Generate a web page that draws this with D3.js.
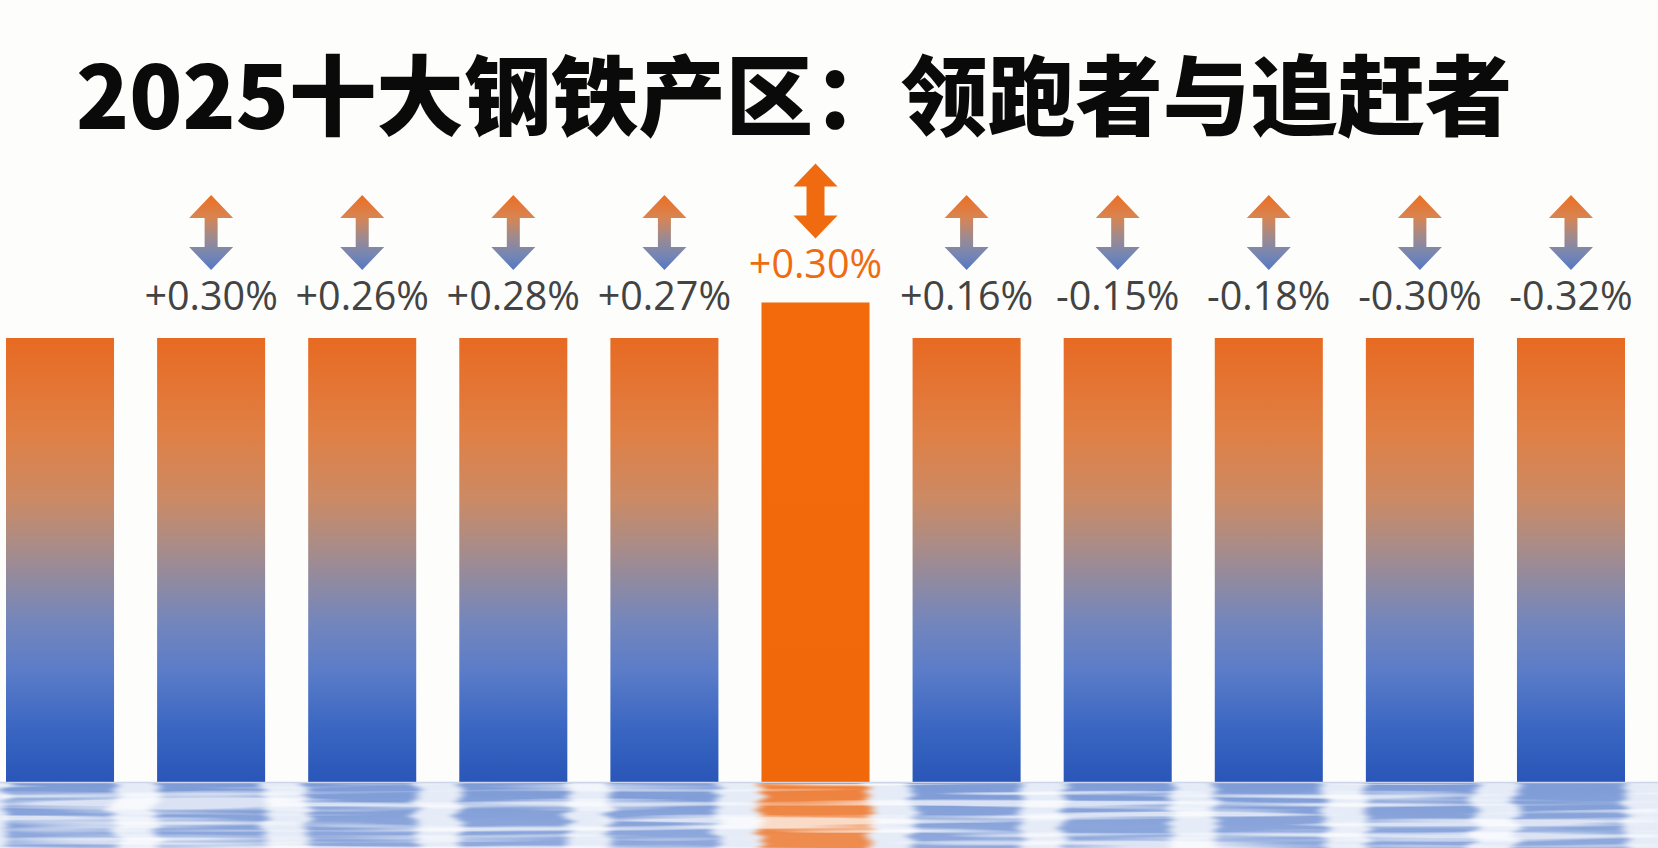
<!DOCTYPE html>
<html><head><meta charset="utf-8">
<script src="https://cdn.jsdelivr.net/npm/d3@7"></script>
<style>
html,body{margin:0;padding:0;background:#fdfdfb;overflow:hidden}
svg{display:block}
</style></head>
<body>
<svg id="chart" width="1658" height="848"></svg>
<script>
// ---- data ----
const titleText = "2025十大钢铁产区：领跑者与追赶者";
const regions = ["1","2","3","4","5","6","7","8","9","10","11"];
const barValues = [100,100,100,100,100,108,100,100,100,100,100];
const changeValues = [null,0.30,0.26,0.28,0.27,0.30,0.16,-0.15,-0.18,-0.30,-0.32];
const leaderFlags = [false,false,false,false,false,true,false,false,false,false,false];

// ---- layout ----
const W = 1658, H = 848;
const waterY = 782;
const svg = d3.select("#chart");
const defs = svg.append("defs");

svg.append("rect").attr("width", W).attr("height", H).attr("fill", "#fdfdfb");

const x = d3.scaleBand().domain(regions).range([6, 1625]).paddingInner(0.285).paddingOuter(0);
const y = d3.scaleLinear().domain([0, 100]).range([waterY, 338]);

// gradients
const bg = defs.append("linearGradient").attr("id","barGrad").attr("x1",0).attr("y1",0).attr("x2",0).attr("y2",1);
[["0%","#e86a22"],["22%","#df8046"],["36%","#cc8a64"],["46%","#ad8c84"],["55%","#8f8aa2"],["64%","#7486bc"],["75%","#5b7cc8"],["88%","#3a66c2"],["100%","#2956b8"]]
  .forEach(s=>bg.append("stop").attr("offset",s[0]).attr("stop-color",s[1]));
const og = defs.append("linearGradient").attr("id","leadGrad").attr("x1",0).attr("y1",0).attr("x2",0).attr("y2",1);
[["0%","#f26a0c"],["100%","#f0680a"]].forEach(s=>og.append("stop").attr("offset",s[0]).attr("stop-color",s[1]));
const ag = defs.append("linearGradient").attr("id","arrowGrad").attr("x1",0).attr("y1",0).attr("x2",0).attr("y2",1);
[["0%","#ec6e22"],["30%","#d88552"],["55%","#a08a8c"],["80%","#7586b4"],["100%","#5577c2"]]
  .forEach(s=>ag.append("stop").attr("offset",s[0]).attr("stop-color",s[1]));
const rg = defs.append("linearGradient").attr("id","reflGrad").attr("x1",0).attr("y1",0).attr("x2",0).attr("y2",1);
[["0%","#6a8cd0"],["100%","#86a2da"]].forEach(s=>rg.append("stop").attr("offset",s[0]).attr("stop-color",s[1]));
const rog = defs.append("linearGradient").attr("id","reflOrange").attr("x1",0).attr("y1",0).attr("x2",0).attr("y2",1);
[["0%","#ee7a30"],["100%","#ee8a4c"]].forEach(s=>rog.append("stop").attr("offset",s[0]).attr("stop-color",s[1]));

// wave filters
const wf = defs.append("filter").attr("id","wave").attr("x","-5%").attr("y","-20%").attr("width","110%").attr("height","140%");
wf.append("feTurbulence").attr("type","fractalNoise").attr("baseFrequency","0.005 0.16").attr("numOctaves",2).attr("seed",4).attr("result","n");
wf.append("feDisplacementMap").attr("in","SourceGraphic").attr("in2","n").attr("scale",26).attr("xChannelSelector","R").attr("yChannelSelector","G").attr("result","d");
wf.append("feGaussianBlur").attr("in","d").attr("stdDeviation","4 0.8");
const sf = defs.append("filter").attr("id","streaks").attr("x",0).attr("y",0).attr("width","100%").attr("height","100%");
sf.append("feTurbulence").attr("type","fractalNoise").attr("baseFrequency","0.003 0.13").attr("numOctaves",2).attr("seed",9).attr("result","n");
sf.append("feColorMatrix").attr("in","n").attr("type","matrix")
  .attr("values","0 0 0 0 1  0 0 0 0 1  0 0 0 0 1  5 0 0 0 -2.3");
sf.append("feGaussianBlur").attr("stdDeviation","3 0.5");

// ---- title ----
svg.append("text").attr("x", 76).attr("y", 129)
  .attr("font-family","'Noto Sans CJK SC','Noto Sans',sans-serif")
  .attr("font-weight",900).attr("font-size",87.4).attr("fill","#0a0a0a")
  .text(titleText);

// ---- bars ----
const data = regions.map((r,i)=>({r, v:barValues[i], c:changeValues[i], lead:leaderFlags[i]}));

svg.append("g").selectAll("rect").data(data).join("rect")
  .attr("x", d=>x(d.r)).attr("width", x.bandwidth())
  .attr("y", d=>y(d.v)).attr("height", d=>waterY - y(d.v))
  .attr("fill", d=>d.lead ? "url(#leadGrad)" : "url(#barGrad)");

// ---- water reflection ----
const water = svg.append("g");
water.append("rect").attr("x",0).attr("y",waterY).attr("width",W).attr("height",H-waterY).attr("fill","#e6ecf7");
const clip = defs.append("clipPath").attr("id","waterClip");
clip.append("rect").attr("x",0).attr("y",waterY+1).attr("width",W).attr("height",H-waterY);
const refl = water.append("g").attr("clip-path","url(#waterClip)").append("g").attr("filter","url(#wave)");
refl.selectAll("rect").data(data).join("rect")
  .attr("x", d=>x(d.r)).attr("width", x.bandwidth())
  .attr("y", waterY - 6).attr("height", H - waterY + 20)
  .attr("fill", d=>d.lead ? "url(#reflOrange)" : "url(#reflGrad)")
  .attr("opacity", d=>d.lead ? 0.95 : 0.85);
water.append("rect").attr("x",0).attr("y",waterY+2).attr("width",W).attr("height",H-waterY)
  .attr("filter","url(#streaks)").attr("opacity",0.7);
water.append("line").attr("x1",0).attr("x2",W).attr("y1",waterY+0.5).attr("y2",waterY+0.5)
  .attr("stroke","#ccd6e8").attr("stroke-width",1.5);

// ---- arrows & labels ----
function arrowPath(cx, top, shaft){
  const hw = 22, hh = 23, len = 75, sw = shaft/2;
  return `M${cx},${top} L${cx+hw},${top+hh} L${cx+sw},${top+hh} L${cx+sw},${top+len-hh} L${cx+hw},${top+len-hh}
          L${cx},${top+len} L${cx-hw},${top+len-hh} L${cx-sw},${top+len-hh} L${cx-sw},${top+hh} L${cx-hw},${top+hh} Z`;
}
const fmt = v => (v > 0 ? "+" : "-") + Math.abs(v).toFixed(2) + "%";
const labeled = data.filter(d=>d.c !== null);
const ann = svg.append("g");
ann.selectAll("path").data(labeled).join("path")
  .attr("d", d=>{
    const cx = x(d.r) + x.bandwidth()/2;
    return d.lead ? arrowPath(cx, y(d.v) - 139, 18) : arrowPath(cx, y(d.v) - 143, 13);
  })
  .attr("fill", d=>d.lead ? "#f06a10" : "url(#arrowGrad)");
ann.selectAll("text").data(labeled).join("text")
  .attr("x", d=>x(d.r) + x.bandwidth()/2)
  .attr("y", d=>y(d.v) - (d.lead ? 24 : 28))
  .attr("text-anchor","middle")
  .attr("font-family","'Open Sans','Noto Sans',sans-serif")
  .attr("font-size",39.5)
  .attr("fill", d=>d.lead ? "#f06a10" : "#434343")
  .text(d=>fmt(d.c));
</script>
</body></html>
